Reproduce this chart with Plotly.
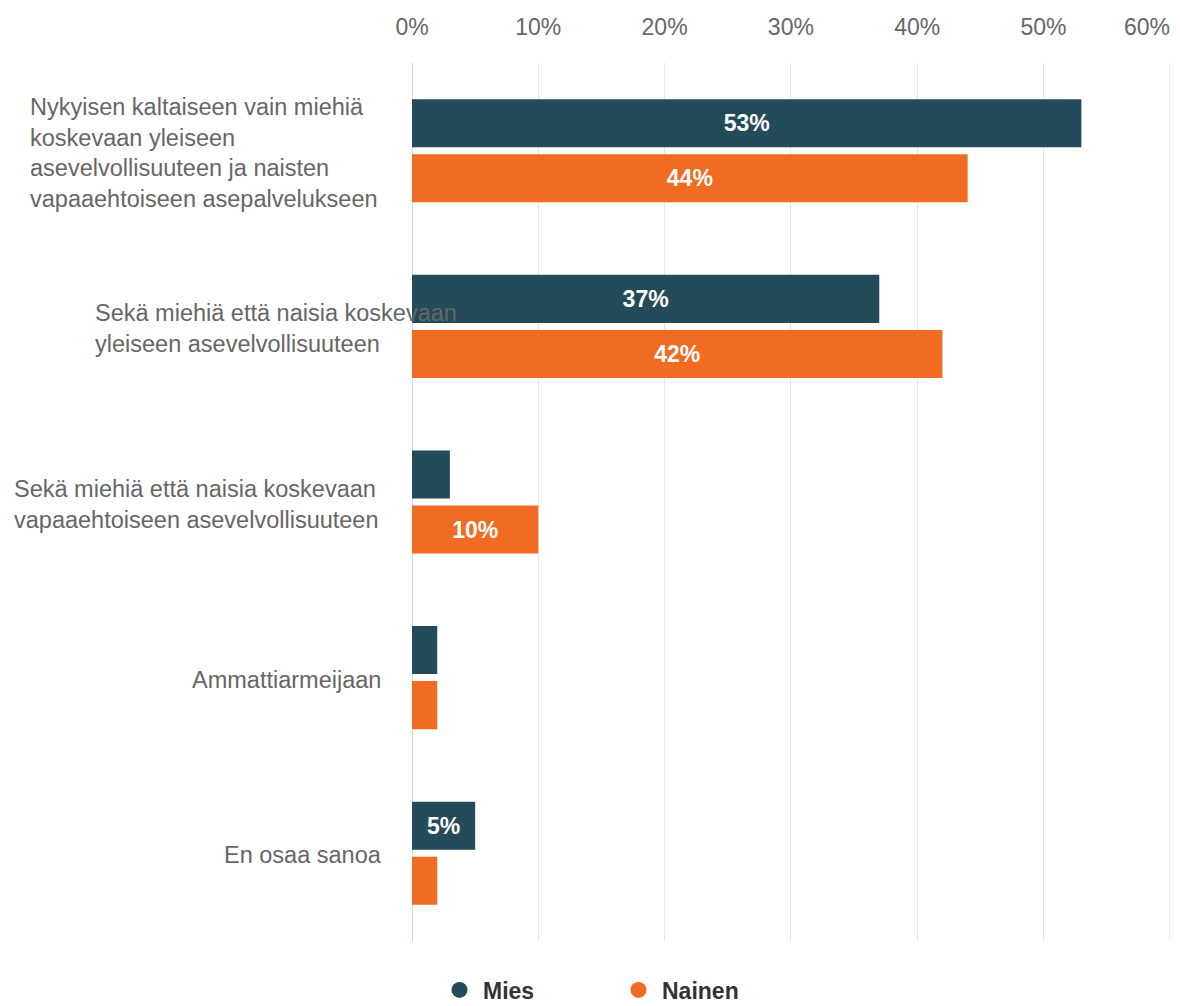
import plotly.graph_objects as go

categories = [
    "Nykyisen kaltaiseen vain miehiä<br>koskevaan yleiseen<br>asevelvollisuuteen ja naisten<br>vapaaehtoiseen asepalvelukseen",
    "Sekä miehiä että naisia koskevaan<br>yleiseen asevelvollisuuteen",
    "Sekä miehiä että naisia koskevaan<br>vapaaehtoiseen asevelvollisuuteen",
    "Ammattiarmeijaan",
    "En osaa sanoa",
]
mies = [53, 37, 3, 2, 5]
nainen = [44, 42, 10, 2, 2]
x_ticks = [0, 10, 20, 30, 40, 50, 60]
x_ticklabels = ["0%", "10%", "20%", "30%", "40%", "50%", "60%"]

# label layout: left edge (page px) of each category label block
label_left_px = [28, 93, 12, 190, 222]

PAGE_OFF = 8  # default body margin of the page
W, H = 1180 - PAGE_OFF, 1006 - PAGE_OFF
PLOT_L, PLOT_R, PLOT_T, PLOT_B = 412, 1170, 63, 941
L = PLOT_L - PAGE_OFF
T = PLOT_T - PAGE_OFF
plot_w = PLOT_R - PLOT_L
plot_h = PLOT_B - PLOT_T
R = W - L - plot_w
B = H - T - plot_h
TICK_Y = 27  # page y of the tick label centres

MIES_C = "#234b5a"
NAINEN_C = "#f26b22"
GRID_C = "#e6e6e6"
TEXT_C = "#666666"
FONT = "Liberation Sans, Arial, sans-serif"

def lbl(vals):
    return [f"{v}%" if v >= 5 else "" for v in vals]

cat_ids = list(range(len(categories)))

fig = go.Figure()
for name, vals, c in [("Mies", mies, MIES_C), ("Nainen", nainen, NAINEN_C)]:
    fig.add_trace(go.Bar(
        y=cat_ids, x=vals, orientation="h", name=name,
        marker=dict(color=c, line=dict(width=0)),
        text=lbl(vals), textposition="inside", insidetextanchor="middle",
        textangle=0, textfont=dict(color="white", size=23, family=FONT, weight="bold"),
        showlegend=False, hoverinfo="skip",
    ))
for name, c in [("Mies", MIES_C), ("Nainen", NAINEN_C)]:
    fig.add_trace(go.Scatter(
        x=[None], y=[None], mode="markers", name=name,
        marker=dict(color=c, size=24, symbol="circle"),
        showlegend=True,
    ))

for i, (cat, lx) in enumerate(zip(categories, label_left_px)):
    fig.add_annotation(
        x=(lx - PLOT_L) / plot_w, xref="paper", y=i, yref="y",
        text=cat, showarrow=False, xanchor="left", yanchor="middle",
        align="left", font=dict(size=23.5, color=TEXT_C, family=FONT),
        yshift=-2,
    )

# last tick label is kept inside the chart (right-aligned to its grid line)
last_tick = x_ticks[-1]
fig.add_annotation(
    x=last_tick, xref="x", y=1 + (PLOT_T - TICK_Y) / plot_h, yref="paper",
    text=x_ticklabels[-1], showarrow=False, xanchor="right", yanchor="middle",
    font=dict(size=23, color=TEXT_C, family=FONT), xshift=2,
)
fig.add_shape(
    type="line", xref="x", yref="paper", x0=last_tick, x1=last_tick, y0=0, y1=1,
    line=dict(color=GRID_C, width=1), layer="below",
)

fig.update_layout(
    width=W, height=H,
    margin=dict(l=L, r=R, t=T, b=B, autoexpand=False),
    plot_bgcolor="white", paper_bgcolor="white",
    barmode="group", bargap=0.373, bargroupgap=0.127,
    font=dict(family=FONT),
    xaxis=dict(
        side="top", range=[0, 60.02], tickvals=x_ticks[:-1], ticktext=x_ticklabels[:-1],
        showgrid=True, gridcolor=GRID_C, gridwidth=1,
        zeroline=True, zerolinecolor="#ccd6eb", zerolinewidth=1,
        tickfont=dict(size=23, color=TEXT_C, family=FONT),
        ticks="", showline=False, fixedrange=True, ticklabelstandoff=22,
    ),
    yaxis=dict(
        range=[len(categories) - 0.5, -0.5], showticklabels=False,
        showgrid=False, zeroline=False, showline=False, ticks="",
        tickvals=cat_ids,
    ),
    legend=dict(
        orientation="h", x=(615 - PLOT_L) / plot_w, xanchor="center",
        y=-(990 - PLOT_B) / plot_h, yanchor="middle",
        font=dict(size=23, color="#333333", family=FONT, weight="bold"),
        entrywidth=127, entrywidthmode="pixels", itemwidth=37,
    ),
)

fig.write_html("out.html")
